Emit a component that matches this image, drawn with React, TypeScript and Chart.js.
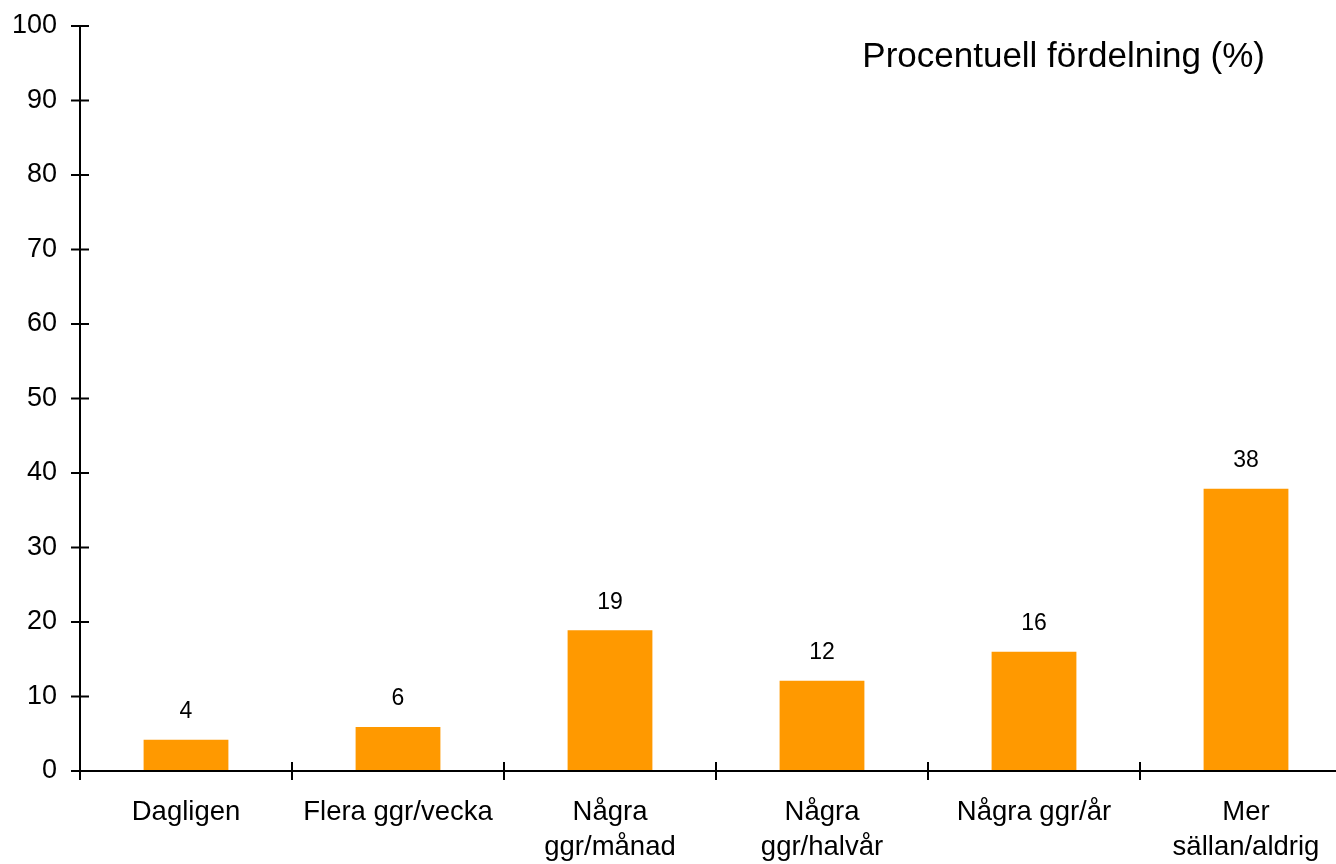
import React, { useEffect, useRef } from "react";
import { Chart, registerables } from "chart.js";

Chart.register(...registerables);

const categories: (string | string[])[] = [
  "Dagligen",
  "Flera ggr/vecka",
  ["Några", "ggr/månad"],
  ["Några", "ggr/halvår"],
  "Några ggr/år",
  ["Mer", "sällan/aldrig"],
];
const values: number[] = [4.2, 5.9, 18.9, 12.1, 16, 37.9];
const valueLabels: string[] = ["4", "6", "19", "12", "16", "38"];
const yTicks: number[] = [0, 10, 20, 30, 40, 50, 60, 70, 80, 90, 100];
const chartTitle = "Procentuell fördelning (%)";

const FONT = "'Liberation Sans', Arial, Helvetica, sans-serif";

const axesPlugin = {
  id: "customAxes",
  afterDatasetsDraw(chart: any) {
    const ctx = chart.ctx;
    const x = chart.scales.x;
    const y = chart.scales.y;
    const area = chart.chartArea;
    ctx.save();
    ctx.strokeStyle = "#000";
    ctx.lineWidth = 2;
    ctx.beginPath();
    ctx.moveTo(area.left, y.getPixelForValue(100));
    ctx.lineTo(area.left, area.bottom + 9);
    ctx.stroke();
    yTicks.forEach((v) => {
      const py = y.getPixelForValue(v);
      ctx.beginPath();
      ctx.moveTo(area.left - 9, py);
      ctx.lineTo(area.left + 9, py);
      ctx.stroke();
    });
    const y0 = y.getPixelForValue(0);
    ctx.beginPath();
    ctx.moveTo(area.left, y0);
    ctx.lineTo(area.right, y0);
    ctx.stroke();
    for (let i = 0; i <= categories.length; i++) {
      const px = x.getPixelForValue(i - 0.5);
      ctx.beginPath();
      ctx.moveTo(px, y0 - 9);
      ctx.lineTo(px, y0 + 9);
      ctx.stroke();
    }
    const meta = chart.getDatasetMeta(0);
    ctx.fillStyle = "#000";
    ctx.font = `23px ${FONT}`;
    ctx.textAlign = "center";
    ctx.textBaseline = "middle";
    meta.data.forEach((bar: any, i: number) => {
      ctx.fillText(valueLabels[i], bar.x, bar.y - 28);
    });
    ctx.font = `35px ${FONT}`;
    ctx.textAlign = "right";
    ctx.textBaseline = "middle";
    ctx.fillText(chartTitle, 1265, 57);
    ctx.restore();
  },
};

export default function App() {
  const ref = useRef<HTMLCanvasElement | null>(null);
  useEffect(() => {
    if (!ref.current) return;
    document.body.style.background = "#fff";
    const chart = new Chart(ref.current, {
      type: "bar",
      data: {
        labels: categories,
        datasets: [
          {
            data: values,
            backgroundColor: "#FF9900",
            borderWidth: 0,
            barPercentage: 0.4,
            categoryPercentage: 1,
          },
        ],
      },
      options: {
        responsive: false,
        animation: false,
        devicePixelRatio: 1,
        layout: { padding: { top: 26, right: 0, bottom: 0, left: 0 } },
        plugins: {
          legend: { display: false },
          tooltip: { enabled: false },
          title: { display: false },
        },
        scales: {
          x: {
            type: "category",
            offset: true,
            grid: { display: false, drawTicks: false },
            border: { display: false },
            ticks: {
              color: "#000",
              font: { family: FONT, size: 27.5, lineHeight: 1.28 },
              padding: 24,
              autoSkip: false,
              maxRotation: 0,
              minRotation: 0,
            },
            afterFit: (scale: any) => {
              scale.height = 93;
              scale.paddingLeft = 0;
              scale.paddingRight = 0;
            },
          },
          y: {
            min: 0,
            max: 100,
            grid: { display: false, drawTicks: false },
            border: { display: false },
            ticks: {
              stepSize: 10,
              color: "#000",
              font: { family: FONT, size: 27 },
              padding: 23,
            },
            afterFit: (scale: any) => {
              scale.width = 80;
              scale.paddingTop = 0;
              scale.paddingBottom = 0;
            },
          },
        },
      },
      plugins: [axesPlugin],
    });
    return () => chart.destroy();
  }, []);
  return (
    <div style={{ position: "fixed", left: 0, top: 0, width: 1352, height: 864, background: "#fff" }}>
      <canvas ref={ref} width={1352} height={864} style={{ display: "block" }} />
    </div>
  );
}
